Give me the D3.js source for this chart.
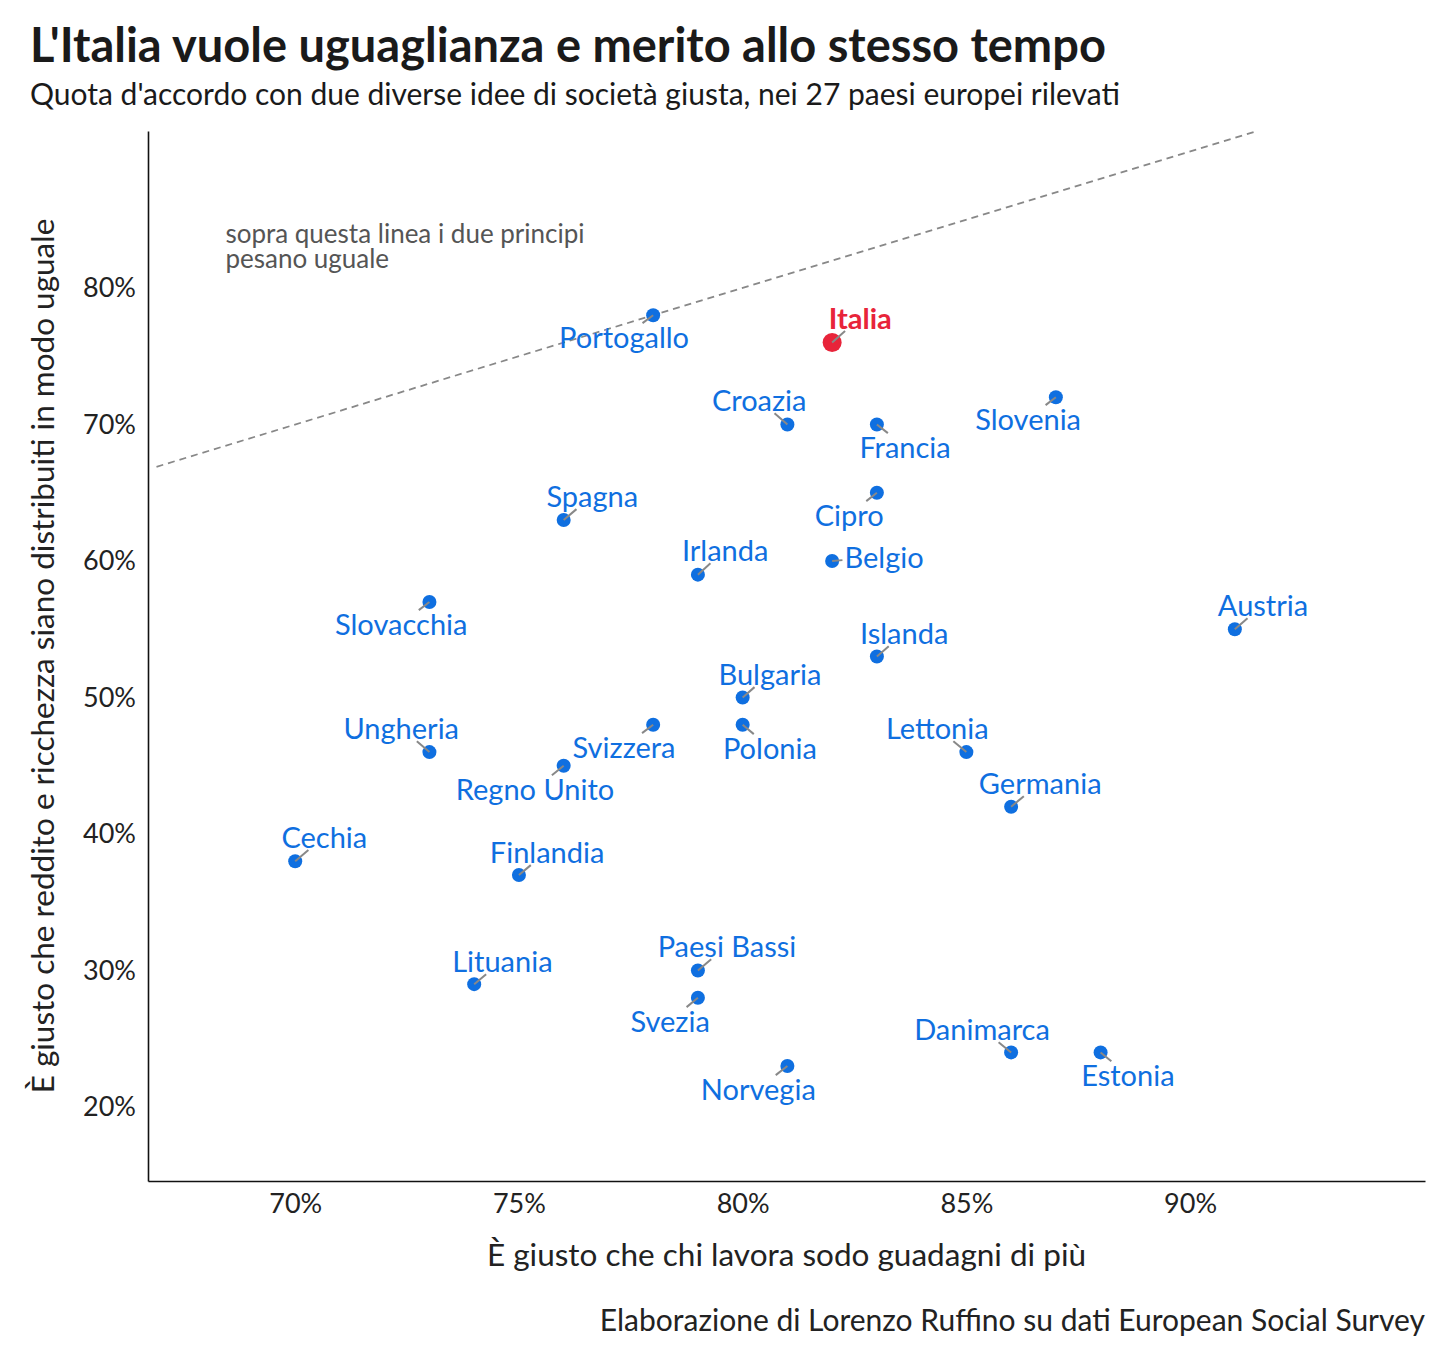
<!DOCTYPE html>
<html>
<head>
<meta charset="utf-8">
<title>L'Italia vuole uguaglianza e merito</title>
<script src="https://cdn.jsdelivr.net/npm/d3@7"></script>
<style>
  body { margin: 0; background: #fff; }
  text { font-family: Lato, "Noto Sans", sans-serif; }
</style>
</head>
<body>
<script>
// paesi e valori (% d'accordo)
var countries = ["Portogallo","Italia","Croazia","Francia","Slovenia","Spagna","Cipro","Irlanda","Belgio",
  "Slovacchia","Austria","Islanda","Bulgaria","Svizzera","Polonia","Ungheria","Lettonia","Regno Unito",
  "Germania","Cechia","Finlandia","Paesi Bassi","Lituania","Svezia","Danimarca","Estonia","Norvegia"]
var merito = [78,82,81,83,87,76,83,79,82,73,91,83,80,78,80,73,85,76,86,70,75,79,74,79,86,88,81]
var uguaglianza = [78,76,70,70,72,63,65,59,60,57,55,53,50,48,48,46,46,45,42,38,37,30,29,28,24,24,23]
// dove finiscono le etichette (in unità dei dati, come le mette ggrepel)
var labelX = [77.35,82.63,80.37,83.63,86.38,76.64,82.38,79.61,83.16,72.37,91.63,83.61,80.61,77.35,80.61,
  72.37,84.35,75.36,86.65,70.65,75.63,79.65,74.63,78.38,85.35,88.61,80.35]
var labelY = [76.34,77.73,71.72,68.28,70.33,64.69,63.30,60.73,60.22,55.31,56.70,54.65,51.65,46.30,46.23,
  47.69,47.69,43.22,43.66,39.71,38.61,31.72,30.62,26.23,25.64,22.27,21.25]
var xTicks = [70,75,80,85,90]
var yTicks = [20,30,40,50,60,70,80]

var width = 1456, height = 1365
var m = {left: 148, right: 31, top: 131, bottom: 184}

var svg = d3.select("body").append("svg")
  .attr("width", width)
  .attr("height", height)

var x = d3.scaleLinear().domain([66.71, 95.25]).range([m.left, width - m.right])
var y = d3.scaleLinear().domain([14.58, 91.5]).range([height - m.bottom, m.top])

var blue = "#0f6fe0", red = "#e8243a"

svg.append("text")
  .attr("x", 30).attr("y", 62)
  .attr("font-size", 47).attr("font-weight", 700).attr("fill", "#1a1a1a")
  .text("L'Italia vuole uguaglianza e merito allo stesso tempo")

svg.append("text")
  .attr("x", 30).attr("y", 105)
  .attr("font-size", 30).attr("fill", "#1a1a1a")
  .text("Quota d'accordo con due diverse idee di società giusta, nei 27 paesi europei rilevati")

// assi senza tacche
var gx = svg.append("g")
  .attr("transform", "translate(0," + (height - m.bottom) + ")")
  .call(d3.axisBottom(x).tickValues(xTicks).tickSize(0).tickPadding(13).tickFormat(d => d + "%"))
var gy = svg.append("g")
  .attr("transform", "translate(" + m.left + ",0)")
  .call(d3.axisLeft(y).tickValues(yTicks).tickSize(0).tickPadding(12).tickFormat(d => d + "%"))

gx.selectAll("text").attr("font-size", 27).attr("fill", "#222").attr("font-family", "Lato")
gy.selectAll("text").attr("font-size", 27).attr("fill", "#222").attr("font-family", "Lato")
gx.select(".domain").attr("stroke", "#111").attr("stroke-width", 1.6)
gy.select(".domain").attr("stroke", "#111").attr("stroke-width", 1.6)

svg.append("text")
  .attr("x", (m.left + width - m.right) / 2).attr("y", 1266)
  .attr("text-anchor", "middle").attr("font-size", 31.5).attr("fill", "#222")
  .text("È giusto che chi lavora sodo guadagni di più")

svg.append("text")
  .attr("transform", "translate(54," + ((m.top + height - m.bottom) / 2) + ") rotate(-90)")
  .attr("text-anchor", "middle").attr("font-size", 31.5).attr("fill", "#222")
  .text("È giusto che reddito e ricchezza siano distribuiti in modo uguale")

svg.append("text")
  .attr("x", width - m.right).attr("y", 1331)
  .attr("text-anchor", "end").attr("font-size", 30).attr("fill", "#222")
  .text("Elaborazione di Lorenzo Ruffino su dati European Social Survey")

// linea y = x
svg.append("line")
  .attr("x1", x(66.9)).attr("y1", y(66.9))
  .attr("x2", x(91.5)).attr("y2", y(91.5))
  .attr("stroke", "#888").attr("stroke-width", 1.8).attr("stroke-dasharray", "7,5")

var note = svg.append("text")
  .attr("x", x(68.44)).attr("y", y(83.3))
  .attr("font-size", 26).attr("fill", "#555")
note.append("tspan").attr("x", x(68.44)).attr("dy", 0).text("sopra questa linea i due principi")
note.append("tspan").attr("x", x(68.44)).attr("dy", 25).text("pesano uguale")

var data = countries.map(function(c, i) {
  return {name: c, mx: merito[i], uy: uguaglianza[i], lx: labelX[i], ly: labelY[i]}
})

var points = svg.append("g").selectAll("circle")
  .data(data).enter().append("circle")
    .attr("cx", d => x(d.mx))
    .attr("cy", d => y(d.uy))
    .attr("r", d => d.name == "Italia" ? 9.5 : 7)
    .attr("fill", d => d.name == "Italia" ? red : blue)

var segs = svg.append("g")
var labels = svg.append("g").selectAll("text")
  .data(data).enter().append("text")
    .attr("x", d => x(d.lx))
    .attr("y", d => y(d.ly))
    .attr("dy", "0.35em")
    .attr("text-anchor", "middle")
    .attr("font-size", 29)
    .attr("font-weight", d => d.name == "Italia" ? 700 : 400)
    .attr("fill", d => d.name == "Italia" ? red : blue)
    .text(d => d.name)

// segmenti dal punto al bordo dell'etichetta
labels.each(function(d) {
  var b = this.getBBox()
  var px = x(d.mx), py = y(d.uy)
  var cx = b.x + b.width / 2, cy = b.y + b.height / 2
  var dx = cx - px, dy = cy - py
  var tx = dx != 0 ? Math.abs((b.width / 2 + 2) / dx) : Infinity
  var ty = dy != 0 ? Math.abs((b.height / 2 - 4) / dy) : Infinity
  var t = Math.min(tx, ty, 1)
  var ex = cx - dx * t, ey = cy - dy * t
  var len = Math.hypot(ex - px, ey - py)
  if (len > 4) {
    segs.append("line")
      .attr("x1", px).attr("y1", py).attr("x2", ex).attr("y2", ey)
      .attr("stroke", "#888").attr("stroke-width", 2)
  }
})
</script>
</body>
</html>
